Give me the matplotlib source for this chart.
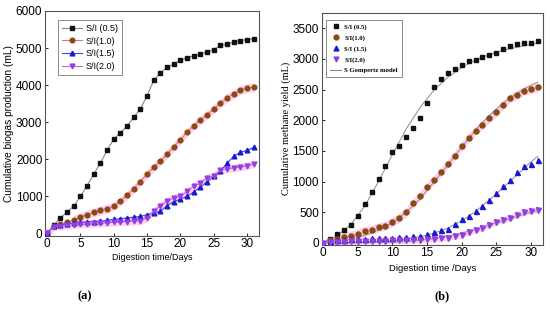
import matplotlib
matplotlib.use("Agg")
import matplotlib.pyplot as plt
from matplotlib.lines import Line2D

# ---- panel (a): cumulative biogas, days 0..31
days_a = list(range(32))
biogas_05 = [0, 220, 420, 580, 740, 1000, 1290, 1600, 1900, 2240, 2550, 2710, 2900, 3130, 3360,
             3720, 4130, 4330, 4480, 4570, 4670, 4740, 4790, 4840, 4890, 4960, 5070, 5110, 5160,
             5200, 5230, 5240]
biogas_10 = [0, 200, 250, 300, 360, 440, 510, 570, 620, 670, 740, 870, 1030, 1210, 1400, 1600,
             1790, 1950, 2140, 2340, 2530, 2730, 2910, 3060, 3200, 3360, 3510, 3660, 3760, 3870,
             3920, 3940]
biogas_15 = [0, 200, 230, 260, 280, 300, 310, 320, 330, 350, 380, 400, 420, 440, 460, 510, 550,
             600, 750, 860, 930, 1000, 1120, 1250, 1400, 1540, 1680, 1900, 2080, 2190, 2240, 2320]
biogas_20 = [0, 180, 200, 220, 240, 250, 260, 270, 280, 290, 300, 310, 320, 330, 340, 420, 600,
             750, 870, 960, 1000, 1140, 1270, 1360, 1500, 1560, 1700, 1740, 1770, 1790, 1830, 1870]
labels_a = ["S/I (0.5)", "S/I(1.0)", "S/I(1.5)", "S/I(2.0)"]

# ---- panel (b): cumulative methane
days_b = list(range(1, 32))
methane_05 = [65, 151, 205, 298, 433, 635, 830, 1042, 1259, 1476, 1585, 1720, 1873, 2036, 2280,
              2541, 2671, 2769, 2839, 2904, 2958, 2985, 3029, 3067, 3104, 3164, 3202, 3241, 3257,
              3267, 3284]
methane_10 = [40, 65, 98, 119, 151, 189, 217, 254, 282, 342, 407, 498, 651, 770, 912, 1031, 1150,
              1292, 1422, 1573, 1710, 1829, 1927, 2036, 2127, 2252, 2361, 2415, 2480, 2513, 2534]
days_b0 = list(range(32))
methane_15 = [0, 30, 45, 55, 60, 65, 70, 72, 75, 78, 82, 90, 98, 108, 119, 151, 173, 205, 233, 309,
              391, 433, 526, 608, 705, 814, 933, 1020, 1156, 1259, 1292, 1346]
methane_20 = [0, 10, 15, 20, 25, 28, 30, 33, 35, 38, 40, 43, 46, 50, 54, 65, 70, 81, 87, 108, 135,
              173, 217, 244, 298, 342, 380, 407, 461, 498, 526, 542]
labels_b = ["S/I (0.5)", "S/I(1.0)", "S/I (1.5)", "S/I(2.0)", "S Gompertz model"]

# Gompertz curves
fit_days = [0, 2, 4, 6, 8, 10, 12, 14, 16, 18, 20, 22, 24, 26, 28, 30, 31]
fit_05 = [10, 110, 300, 600, 1000, 1440, 1860, 2210, 2490, 2700, 2860, 2980, 3070, 3140, 3190, 3235, 3255]
fit_10 = [0, 20, 60, 120, 210, 330, 500, 720, 990, 1270, 1560, 1840, 2080, 2280, 2440, 2570, 2620]
fit_15 = [0, 2, 5, 10, 20, 35, 60, 100, 160, 240, 360, 510, 700, 900, 1110, 1320, 1410]
fit_20 = [0, 1, 3, 5, 8, 12, 20, 40, 70, 110, 160, 220, 290, 360, 430, 500, 530]

c_black = "#111111"
c_brown = "#8a4a14"
c_blue = "#1a1acc"
c_purple = "#9040e0"
pink = "#ffd0ee"

fig = plt.figure(figsize=(5.5, 3.22), dpi=100)
sans = "Liberation Sans"
serif = "Liberation Serif"

# ================= (a)
ax1 = fig.add_axes([0.082, 0.268, 0.388, 0.698])
ax1.fill_between(days_a[4:], [v - 120 for v in biogas_10[4:]], [v + 120 for v in biogas_10[4:]],
                 color=pink, lw=0, zorder=1)
ax1.fill_between(days_a, [v - 100 for v in biogas_20], [v + 100 for v in biogas_20],
                 color=pink, lw=0, zorder=1)
ax1.plot(days_a, biogas_05, color="#888888", lw=0.8, marker="s", ms=3.2, mfc=c_black, mec=c_black,
         label=labels_a[0], zorder=3)
ax1.plot(days_a, biogas_10, color="#f07070", lw=0.8, marker="o", ms=3.4, mfc=c_brown, mec=c_brown,
         label=labels_a[1], zorder=3)
ax1.plot(days_a, biogas_15, color="#4040ff", lw=0.8, marker="^", ms=3.4, mfc=c_blue, mec=c_blue,
         label=labels_a[2], zorder=3)
ax1.plot(days_a, biogas_20, color="#d060e0", lw=0.8, marker="v", ms=3.4, mfc=c_purple, mec=c_purple,
         label=labels_a[3], zorder=3)
ax1.set_xlim(-0.3, 31.7)
ax1.set_ylim(-60, 6000)
ax1.set_xticks([0, 5, 10, 15, 20, 25, 30])
ax1.set_yticks([0, 1000, 2000, 3000, 4000, 5000, 6000])
ax1.tick_params(direction="in", length=2.5, width=0.6, labelsize=8.5, pad=2)
for t in ax1.get_xticklabels() + ax1.get_yticklabels():
    t.set_fontfamily(sans)
ax1.set_xlabel("Digestion time/Days", fontsize=6.5, family=sans, labelpad=2)
ax1.set_ylabel("Cumulative biogas production (mL)", fontsize=7.3, family=sans, labelpad=1)
for s in ax1.spines.values():
    s.set_color("#555555")
    s.set_linewidth(0.8)
leg1 = ax1.legend(loc="upper left", bbox_to_anchor=(0.04, 0.98), prop={"family": sans, "size": 6.5},
                  frameon=True, fancybox=False, edgecolor="#555555", handlelength=2.2,
                  handletextpad=0.4, borderpad=0.45, labelspacing=0.4)
leg1.get_frame().set_linewidth(0.6)

# ================= (b)
ax2 = fig.add_axes([0.585, 0.24, 0.403, 0.72])
ax2.fill_between(days_b[1:], [v - 75 for v in methane_10[1:]], [v + 75 for v in methane_10[1:]],
                 color=pink, lw=0, zorder=1)
ax2.fill_between(days_b0[1:], [v - 50 for v in methane_20[1:]], [v + 50 for v in methane_20[1:]],
                 color=pink, lw=0, zorder=1)
for fy in (fit_05, fit_10, fit_15, fit_20):
    ax2.plot(fit_days, fy, color="#999999", lw=0.8, zorder=2)
ax2.plot(days_b, methane_05, ls="none", marker="s", ms=3.4, color=c_black, zorder=3)
ax2.plot(days_b, methane_10, ls="none", marker="o", ms=3.6, color=c_brown, zorder=3)
ax2.plot(days_b0, methane_15, ls="none", marker="^", ms=3.6, color=c_blue, zorder=3)
ax2.plot(days_b0, methane_20, ls="none", marker="v", ms=3.6, color=c_purple, zorder=3)
ax2.set_xlim(-0.2, 31.8)
ax2.set_ylim(-30, 3750)
ax2.set_xticks([0, 5, 10, 15, 20, 25, 30])
ax2.set_yticks([0, 500, 1000, 1500, 2000, 2500, 3000, 3500])
ax2.tick_params(direction="in", length=2.5, width=0.6, labelsize=8.5, pad=2)
for t in ax2.get_xticklabels() + ax2.get_yticklabels():
    t.set_fontfamily(sans)
ax2.set_xlabel("Digestion time /Days", fontsize=6.8, family=sans, labelpad=3)
ax2.set_ylabel("Cumulative methane yield (mL)", fontsize=7.5, family=serif, labelpad=1)
for s in ax2.spines.values():
    s.set_color("#555555")
    s.set_linewidth(0.8)
handles_b = [
    Line2D([], [], ls="none", marker="s", ms=3.3, color=c_black),
    Line2D([], [], ls="none", marker="o", ms=3.5, color=c_brown),
    Line2D([], [], ls="none", marker="^", ms=3.5, color=c_blue),
    Line2D([], [], ls="none", marker="v", ms=3.5, color=c_purple),
    Line2D([], [], color="#8c8c8c", lw=0.8),
]
leg2 = ax2.legend(handles_b, labels_b, loc="upper left", bbox_to_anchor=(0.005, 0.985),
                  prop={"family": serif, "size": 4.8, "weight": "bold"}, frameon=True,
                  fancybox=False, edgecolor="#555555", handlelength=1.6, handletextpad=0.5,
                  borderpad=0.6, labelspacing=0.75)
leg2.get_frame().set_linewidth(0.6)

fig.text(0.155, 0.08, "(a)", fontsize=9, family=serif, weight="bold", ha="center", va="center")
fig.text(0.804, 0.08, "(b)", fontsize=9, family=serif, weight="bold", ha="center", va="center")

fig.savefig("out.png", dpi=100)
